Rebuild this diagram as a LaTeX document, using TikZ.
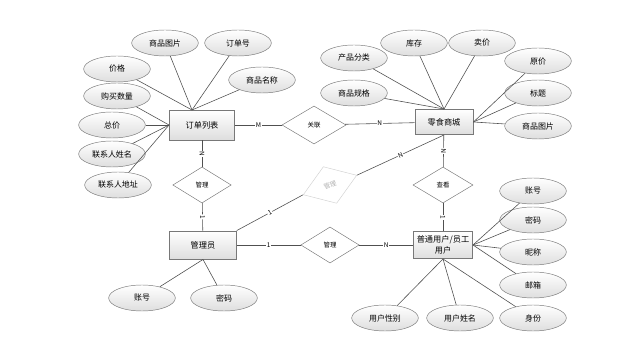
\documentclass[tikz,border=0pt]{standalone}
\usepackage{fontspec}
\setmainfont{Noto Sans CJK SC}
\usetikzlibrary{positioning,shapes.geometric,shadows}
\definecolor{erline}{RGB}{80,80,80}
\definecolor{erborder}{RGB}{120,120,120}
\definecolor{erfill}{RGB}{222,222,222}
\tikzset{
  entbox/.style={
    rectangle, draw=erborder, line width=0.8pt, top color=white, bottom color=erfill,
    align=center, inner sep=1pt, font=\fontsize{7}{9.5}\selectfont,
    drop shadow={shadow xshift=0.6pt, shadow yshift=-0.6pt, opacity=0.35}
  },
  attr/.style={
    ellipse, draw=erborder, top color=white, bottom color=erfill, inner sep=0pt,
    minimum width=2.0cm, minimum height=0.78cm, font=\fontsize{6.8}{7}\selectfont
  },
  rel/.style={
    diamond, draw=erborder, fill=white, inner sep=0pt,
    minimum width=1.75cm, minimum height=1.08cm, font=\fontsize{5.5}{6}\selectfont
  },
  eline/.style={draw=erline, line width=0.5pt},
  card/.style={fill=white, inner sep=0.6pt, font=\fontsize{5.5}{6}\selectfont}
}

\begin{document}
\begin{tikzpicture}[x=0.03cm, y=-0.03cm]
  \useasboundingbox (0,0) rectangle (623,346);
  % entities
  \node[entbox, minimum width=1.95cm, minimum height=0.9cm]  (ddlb) at (202,125) {订单列表};
  \node[entbox, minimum width=1.74cm, minimum height=0.75cm] (lssc) at (444,122) {零食商城};
  \node[entbox, minimum width=2.0cm, minimum height=0.84cm]  (gly)  at (203,245) {管理员};
  \node[entbox, minimum width=1.77cm, minimum height=0.81cm] (ptyh) at (443,245) {普通用户/员工\\用户};
  % relations
  \node[rel, minimum width=1.92cm, minimum height=1.14cm] (gl)  at (314,125) {关联};
  \node[rel]                                              (gl1) at (202,185) {管理};
  \node[rel, draw=gray!35, text=gray!60, rotate=20,
        minimum width=1.71cm, minimum height=1.17cm]      (gl2) at (330,185) {管理};
  \node[rel, minimum width=1.8cm]                         (ck)  at (443,185) {查看};
  \node[rel]                                              (gl3) at (330,245) {管理};
  % attributes of 订单列表
  \node[attr] (jg)    at (117,69)  {价格};
  \node[attr] (gmsl)  at (117,96)  {购买数量};
  \node[attr] (zj)    at (112,125) {总价};
  \node[attr] (lxrxm) at (112,154) {联系人姓名};
  \node[attr] (lxrdz) at (118,185) {联系人地址};
  \node[attr] (sptp)  at (165,43)  {商品图片};
  \node[attr] (ddh)   at (238,43)  {订单号};
  \node[attr] (spmc)  at (262,80)  {商品名称};
  % attributes of 零食商城
  \node[attr] (cpfl)  at (354,58)  {产品分类};
  \node[attr] (kc)    at (414,43)  {库存};
  \node[attr] (mj)    at (482,43)  {卖价};
  \node[attr] (yj)    at (538,61)  {原价};
  \node[attr] (spgg)  at (354,93)  {商品规格};
  \node[attr] (bt)    at (538,93)  {标题};
  \node[attr] (sptpb) at (538,126) {商品图片};
  % attributes of 普通用户
  \node[attr] (zh)    at (533,191) {账号};
  \node[attr] (mm)    at (533,220) {密码};
  \node[attr] (nc)    at (533,252) {昵称};
  \node[attr] (yx)    at (533,285) {邮箱};
  \node[attr] (sf)    at (533,318) {身份};
  \node[attr] (yhxb)  at (385,318) {用户性别};
  \node[attr] (yhxm)  at (460,318) {用户姓名};
  % attributes of 管理员
  \node[attr] (zhb)   at (142,298) {账号};
  \node[attr] (mmb)   at (224,298) {密码};

  \coordinate (ddtop) at (192,110);
  \foreach \i in {jg,sptp,ddh,spmc}
    \draw[eline] (\i) -- (ddtop);
  \foreach \i in {gmsl,zj,lxrxm,lxrdz}
    \draw[eline] (\i) -- (ddlb.west);
  \foreach \i in {cpfl,kc,mj,spgg}
    \draw[eline] (\i) -- (lssc.north);
  \foreach \i in {yj,bt,sptpb}
    \draw[eline] (\i) -- (lssc.east);
  \foreach \i in {zh,mm,nc,yx}
    \draw[eline] (\i) -- (ptyh.east);
  \foreach \i in {sf,yhxm,yhxb}
    \draw[eline] (\i) -- (ptyh.south);
  \foreach \i in {zhb,mmb}
    \draw[eline] (\i) -- (gly.south);

  % relation lines
  \draw[eline] (ddlb) -- node[card]{M} (gl);
  \draw[eline] (gl) -- node[card]{N} (lssc);
  \draw[eline] (ddlb) -- node[card, sloped]{N} (gl1);
  \draw[eline] (gl1) -- node[card, sloped]{1} (gly);
  \draw[eline] (gly.north east) -- node[card, sloped]{1} (gl2.west);
  \draw[eline] (gl2.east) -- node[card, sloped]{N} (lssc.south);
  \draw[eline] (lssc) -- node[card, sloped]{N} (ck);
  \draw[eline] (ck) -- node[card, sloped]{1} (ptyh);
  \draw[eline] (gly) -- node[card]{1} (gl3);
  \draw[eline] (gl3) -- node[card]{N} (ptyh);
\end{tikzpicture}
\end{document}
